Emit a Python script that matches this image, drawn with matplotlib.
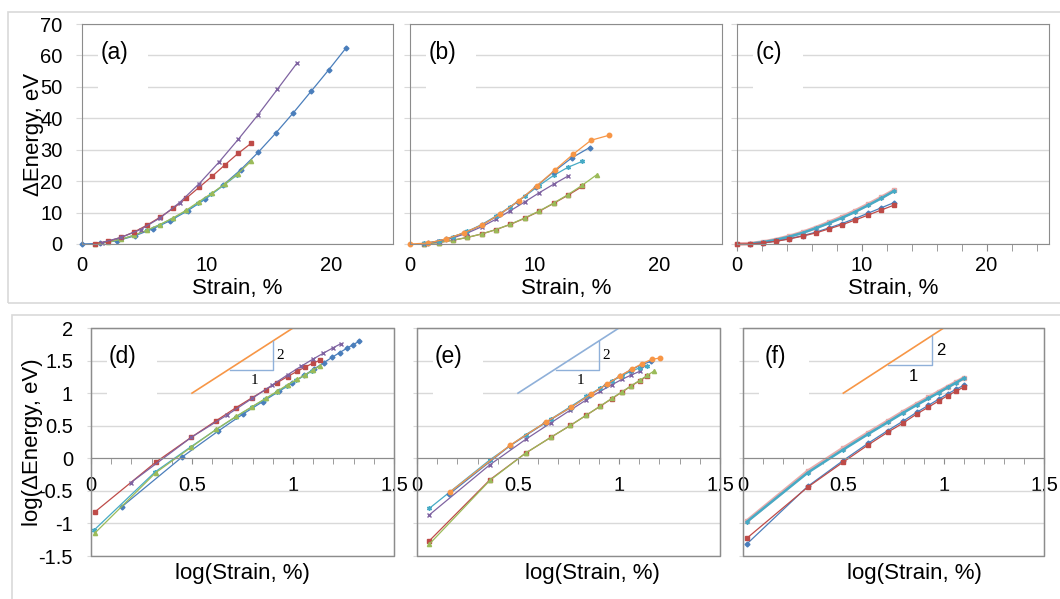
import numpy as np
import matplotlib.pyplot as plt
from matplotlib.patches import Rectangle
from matplotlib.ticker import MultipleLocator

plt.rcParams['font.family'] = ['Liberation Sans', 'DejaVu Sans']
plt.rcParams['axes.unicode_minus'] = False

# ---------------- data: strain (%) and energy change (eV) ----------------
# set 1 -> panels (a) and (d)
s1_blue_x = [0, 1.42, 2.83, 4.25, 5.67, 7.08, 8.5, 9.92, 11.33, 12.75, 14.17, 15.58, 17.0, 18.42, 19.83, 21.25]
s1_blue_y = [0, 0.18, 1.05, 2.6, 4.8, 7.4, 10.6, 14.3, 18.7, 23.6, 29.2, 35.3, 41.8, 48.6, 55.4, 62.5]
s1_red_x = [1.045, 2.09, 3.135, 4.18, 5.225, 6.27, 7.315, 8.36, 9.405, 10.45, 11.495, 12.54, 13.585]
s1_red_y = [0.15, 0.87, 2.1, 3.8, 6.0, 8.5, 11.3, 14.5, 18.0, 21.5, 25.2, 28.8, 32.0]
s1_green_x = [1.045, 2.09, 3.135, 4.18, 5.225, 6.27, 7.315, 8.36, 9.405, 10.45, 11.495, 12.54, 13.585]
s1_green_y = [0.071, 0.60, 1.48, 2.8, 4.4, 6.2, 8.3, 10.7, 13.5, 16.2, 19.1, 22.4, 26.3]
s1_purple_x = [1.57, 3.14, 4.71, 6.28, 7.85, 9.42, 11.0, 12.56, 14.13, 15.7, 17.27]
s1_purple_y = [0.42, 2.1, 4.6, 8.3, 13.2, 19.2, 26.0, 33.3, 41.0, 49.2, 57.5]
s1_cyan_x = [1.04, 2.08, 3.12, 4.16, 5.2, 6.24, 7.28, 8.32, 9.36, 10.4, 11.44, 12.48]
s1_cyan_y = [0.08, 0.62, 1.5, 2.75, 4.3, 6.1, 8.1, 10.4, 13.0, 15.8, 18.8, 22.0]

# set 2 -> panels (b) and (e)
s2_orange_x = [0, 1.45, 2.9, 4.35, 5.8, 7.25, 8.7, 10.15, 11.6, 13.05, 14.5, 15.95]
s2_orange_y = [0, 0.3, 1.6, 3.6, 6.1, 9.6, 13.7, 18.5, 23.5, 28.5, 33.0, 34.6]
s2_blue_x = [1.44, 2.88, 4.32, 5.76, 7.2, 8.64, 10.08, 11.52, 12.96, 14.4]
s2_blue_y = [0.28, 1.55, 3.5, 6.0, 9.4, 13.5, 18.2, 23.0, 27.4, 30.7]
s2_cyan_x = [1.15, 2.3, 3.45, 4.6, 5.75, 6.9, 8.05, 9.2, 10.35, 11.5, 12.65, 13.8]
s2_cyan_y = [0.17, 0.95, 2.3, 4.0, 6.2, 8.9, 11.9, 15.2, 18.6, 21.8, 24.4, 26.3]
s2_purple_x = [1.15, 2.3, 3.45, 4.6, 5.75, 6.9, 8.05, 9.2, 10.35, 11.5, 12.65]
s2_purple_y = [0.135, 0.8, 1.95, 3.5, 5.5, 7.9, 10.6, 13.4, 16.3, 19.0, 21.6]
s2_red_x = [1.15, 2.3, 3.45, 4.6, 5.75, 6.9, 8.05, 9.2, 10.35, 11.5, 12.65, 13.8]
s2_red_y = [0.054, 0.47, 1.2, 2.1, 3.2, 4.6, 6.25, 8.2, 10.4, 12.9, 15.5, 18.3]
s2_green_x = [1.15, 2.3, 3.45, 4.6, 5.75, 6.9, 8.05, 9.2, 10.35, 11.5, 12.65, 13.8, 14.95]
s2_green_y = [0.048, 0.46, 1.2, 2.1, 3.2, 4.6, 6.3, 8.3, 10.5, 13.0, 15.7, 18.7, 22.0]

# set 3 -> panels (c) and (f)
s3_pink_x = [0, 1.05, 2.1, 3.15, 4.2, 5.25, 6.3, 7.35, 8.4, 9.45, 10.5, 11.55, 12.6]
s3_pink_y = [0, 0.11, 0.63, 1.42, 2.45, 3.7, 5.2, 6.85, 8.6, 10.5, 12.6, 14.8, 17.1]
s3_cyan_x = [1.05, 2.1, 3.15, 4.2, 5.25, 6.3, 7.35, 8.4, 9.45, 10.5, 11.55, 12.6]
s3_cyan_y = [0.107, 0.6, 1.35, 2.35, 3.55, 5.0, 6.6, 8.3, 10.2, 12.3, 14.5, 16.9]
s3_blue_x = [1.05, 2.1, 3.15, 4.2, 5.25, 6.3, 7.35, 8.4, 9.45, 10.5, 11.55, 12.6]
s3_blue_y = [0.049, 0.37, 0.92, 1.7, 2.65, 3.75, 5.1, 6.5, 8.1, 9.8, 11.5, 13.2]
s3_red_x = [0, 1.05, 2.1, 3.15, 4.2, 5.25, 6.3, 7.35, 8.4, 9.45, 10.5, 11.55, 12.6]
s3_red_y = [0, 0.06, 0.36, 0.87, 1.6, 2.5, 3.5, 4.8, 6.1, 7.6, 9.2, 10.8, 12.4]

# slope-2 guide and triangle (log panels)
guide_x = [0.5, 1.0]
guide_y = [1.0, 2.0]
tri_d = ([0.69, 0.9, 0.9], [1.35, 1.35, 1.8])
tri_e = ([0.69, 0.9, 0.9], [1.35, 1.35, 1.8])
tri_f = ([0.725, 0.94, 0.94], [1.43, 1.43, 1.87])

top_yticks = [0, 10, 20, 30, 40, 50, 60, 70]
top_xticks = [0, 10, 20]
log_yticks = [-1.5, -1, -0.5, 0, 0.5, 1, 1.5, 2]
log_ylabels = ['-1.5', '-1', '-0.5', '0', '0.5', '1', '1.5', '2']
log_xticks = [0, 0.5, 1, 1.5]
log_xlabels = ['0', '0.5', '1', '1.5']

BLUE = '#4a7ebb'
RED = '#be4b48'
GREEN = '#9bbb59'
PURPLE = '#7f63a1'
CYAN = '#46aac5'
ORANGE = '#f79646'
PINK = '#e8abaa'
LBLUE = '#8fb0d9'
GRID = '#d9d9d9'
FRAME = '#8c8c8c'
TICK_FS = 14.5
LABEL_FS = 16

set1 = [
    (s1_blue_x, s1_blue_y, dict(color=BLUE, marker='D', ms=2.5)),
    (s1_cyan_x, s1_cyan_y, dict(color=CYAN, marker=(6, 2, 0), ms=3.5)),
    (s1_green_x, s1_green_y, dict(color=GREEN, marker='^', ms=3)),
    (s1_red_x, s1_red_y, dict(color=RED, marker='s', ms=3.2)),
    (s1_purple_x, s1_purple_y, dict(color=PURPLE, marker='x', ms=3)),
]
set2 = [
    (s2_red_x, s2_red_y, dict(color=RED, marker='s', ms=3.2)),
    (s2_green_x, s2_green_y, dict(color=GREEN, marker='^', ms=3)),
    (s2_purple_x, s2_purple_y, dict(color=PURPLE, marker='x', ms=2.5)),
    (s2_cyan_x, s2_cyan_y, dict(color=CYAN, marker=(6, 2, 0), ms=3.5)),
    (s2_blue_x, s2_blue_y, dict(color=BLUE, marker='D', ms=2.5)),
    (s2_orange_x, s2_orange_y, dict(color=ORANGE, marker='o', ms=3.2)),
]
set3 = [
    (s3_pink_x, s3_pink_y, dict(color=PINK, marker='s', ms=3, lw=2.6)),
    (s3_cyan_x, s3_cyan_y, dict(color=CYAN, marker=(6, 2, 0), ms=3, lw=1.8)),
    (s3_blue_x, s3_blue_y, dict(color=BLUE, marker='D', ms=2.5)),
    (s3_red_x, s3_red_y, dict(color=RED, marker='s', ms=3.2)),
]

W, H = 1060, 599
fig = plt.figure(figsize=(W / 100, H / 100), dpi=100)


def px_axes(l, t, r, b):
    return fig.add_axes([l / W, 1 - b / H, (r - l) / W, (b - t) / H])


def panel_label(ax, text, w, h):
    # white text box of the original sheet, hides the grid behind the label
    ax.add_patch(Rectangle((16 / w, 1 - 74 / h), 50 / w, 66 / h, transform=ax.transAxes,
                           fc='white', ec='none', zorder=1.5))
    ax.text(32 / w, 1 - 29 / h, text, transform=ax.transAxes, fontsize=16.5,
            ha='center', va='center', zorder=3)


# outer chart frames
fig.patches.append(Rectangle((8 / W, 1 - 303 / H), 1.1, 291 / H, transform=fig.transFigure,
                             fill=False, ec=GRID, lw=1.2))
fig.patches.append(Rectangle((12 / W, -0.1), 1.1, 1 - 315 / H + 0.1, transform=fig.transFigure,
                             fill=False, ec=GRID, lw=1.2))

# ---------------- top row: linear ----------------
top_boxes = [(82, 24, 393, 244), (410, 24, 722, 244), (737, 24, 1049, 244)]
for i, (box, data, lab) in enumerate(zip(top_boxes, [set1, set2, set3], ['(a)', '(b)', '(c)'])):
    ax = px_axes(*box)
    w, h = box[2] - box[0], box[3] - box[1]
    for x, y, st in data:
        st = dict(st)
        lw = st.pop('lw', 0.9)
        ax.plot(x, y, lw=lw, mec=st['color'], **st, clip_on=False, zorder=2)
    ax.set_xlim(0, 25)
    ax.set_ylim(0, 70)
    ax.set_yticks(top_yticks)
    ax.set_xticks(top_xticks)
    ax.grid(axis='y', color=GRID, lw=1)
    ax.set_axisbelow(True)
    for sp in ax.spines.values():
        sp.set_color(FRAME)
    ax.tick_params(axis='y', length=4, color=GRID, pad=10, labelsize=TICK_FS)
    if i == 2:
        ax.xaxis.set_minor_locator(MultipleLocator(2))
        ax.tick_params(axis='x', which='both', length=5, color=FRAME, pad=4, labelsize=TICK_FS)
    else:
        ax.tick_params(axis='x', length=0, pad=9, labelsize=TICK_FS)
    if i > 0:
        ax.set_yticklabels([])
    panel_label(ax, lab, w, h)
    fig.text(((box[0] + box[2]) / 2) / W, 1 - 288 / H, 'Strain, %', fontsize=LABEL_FS,
             ha='center', va='center')

fig.text(33 / W, 1 - 134 / H, 'ΔEnergy, eV', rotation=90, fontsize=LABEL_FS, ha='center', va='center')

# ---------------- bottom row: log-log ----------------
bot_boxes = [(91, 328, 394, 556), (417, 328, 720, 556), (743, 328, 1044, 556)]
bot_xlab = [242, 592, 914]
guides = [(ORANGE, tri_d, 'serif'), (LBLUE, tri_e, 'serif'), (ORANGE, tri_f, 'sans-serif')]
for i, (box, data, lab) in enumerate(zip(bot_boxes, [set1, set2, set3], ['(d)', '(e)', '(f)'])):
    ax = px_axes(*box)
    w, h = box[2] - box[0], box[3] - box[1]
    for x, y, st in data:
        st = dict(st)
        lw = st.pop('lw', 0.9)
        x = np.asarray(x, float)
        y = np.asarray(y, float)
        keep = (x > 0) & (y > 0)
        ax.plot(np.log10(x[keep]), np.log10(y[keep]), lw=lw, mec=st['color'], **st, zorder=2)
    gcol, tri, fam = guides[i]
    ax.plot(guide_x, guide_y, color=gcol, lw=1.2, zorder=2)
    ax.plot(tri[0], tri[1], color=LBLUE, lw=1.0, zorder=2)
    tx, ty = tri
    fs = 11 if fam == 'serif' else 12
    fams = ['Liberation Serif'] if fam == 'serif' else ['Liberation Sans']
    ax.text(tx[1] + 0.02, (ty[1] + ty[2]) / 2, '2', family=fams, fontsize=fs, ha='left', va='center')
    ax.text((tx[0] + tx[1]) / 2 + 0.015, ty[0] - 0.06, '1', family=fams, fontsize=fs,
            ha='center', va='top')

    ax.set_xlim(0, 1.5)
    ax.set_ylim(-1.5, 2)
    ax.set_yticks(log_yticks)
    ax.set_yticklabels(log_ylabels if i == 0 else [])
    ax.set_xticks(log_xticks)
    ax.set_xticklabels(log_xlabels)
    ax.xaxis.set_minor_locator(MultipleLocator(0.1))
    ax.grid(axis='y', color=GRID, lw=1)
    ax.set_axisbelow(True)
    for sp in ax.spines.values():
        sp.set_color(FRAME)
    ax.spines['bottom'].set_position(('data', 0))
    ax.add_patch(Rectangle((0, 0), 1, 1, transform=ax.transAxes, fill=False, ec=FRAME,
                           lw=1, clip_on=False, zorder=1))
    ax.tick_params(axis='y', length=3, color=GRID, pad=10, labelsize=TICK_FS)
    ax.tick_params(axis='x', which='both', length=4, color=FRAME, pad=9, labelsize=TICK_FS)
    panel_label(ax, lab, w, h)
    fig.text(bot_xlab[i] / W, 1 - 573 / H, 'log(Strain, %)', fontsize=LABEL_FS, ha='center', va='center')

fig.text(33 / W, 1 - 442 / H, 'log(ΔEnergy, eV)', rotation=90, fontsize=LABEL_FS, ha='center', va='center')

fig.savefig('out.png', dpi=100)
